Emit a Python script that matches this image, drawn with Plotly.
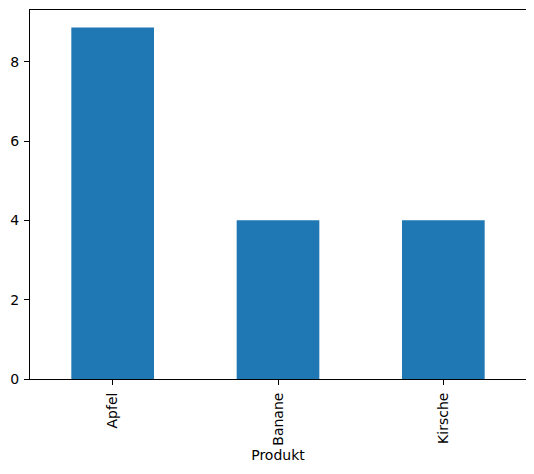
import plotly.graph_objects as go

produkte = ["Apfel", "Banane", "Kirsche"]
werte = [8.86, 4, 4]

fig = go.Figure(go.Bar(x=produkte, y=werte, marker_color="#1f77b4", width=0.5, marker_line_width=0))

axis_style = dict(showline=True, linecolor="black", linewidth=1, mirror=True,
                  ticks="outside", ticklen=5, tickcolor="black", showgrid=False,
                  zeroline=False, tickfont=dict(size=14, color="black"))

fig.update_xaxes(axis_style, tickangle=-90, range=[-0.5, 2.5], ticklabelstandoff=2,
                 title=dict(text="Produkt", font=dict(size=14, color="black"), standoff=5))
fig.update_yaxes(axis_style, range=[0, max(werte) * 1.05], tickvals=[0, 2, 4, 6, 8],
                 ticklabelstandoff=2)

# page body has a default 8px margin, so the figure is a bit smaller than the window
fig.update_layout(width=520, height=458, margin=dict(l=22, r=2, t=2, b=87),
                  plot_bgcolor="white", paper_bgcolor="white",
                  font=dict(family="DejaVu Sans"), showlegend=False, bargap=0.5)

fig.write_html("out.html")
